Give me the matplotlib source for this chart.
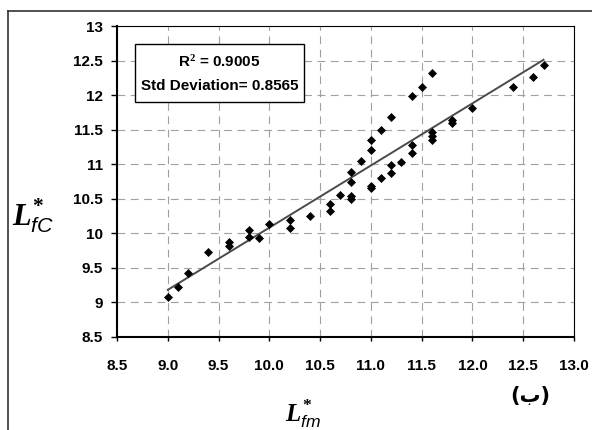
import numpy as np
import matplotlib
matplotlib.use("Agg")
import matplotlib.pyplot as plt
from matplotlib.patches import Rectangle
from matplotlib.lines import Line2D

# ---- data ----
x_fm = [9.0, 9.1, 9.2, 9.4, 9.6, 9.6, 9.8, 9.8, 9.9, 10.0,
        10.2, 10.2, 10.4, 10.6, 10.6, 10.7, 10.8, 10.8, 10.8, 10.8,
        10.9, 11.0, 11.0, 11.0, 11.0, 11.1, 11.1, 11.2, 11.2, 11.2,
        11.3, 11.4, 11.4, 11.4, 11.5, 11.6, 11.6, 11.6, 11.6, 11.8,
        11.8, 12.0, 12.4, 12.6, 12.7]
y_fc = [9.08, 9.22, 9.43, 9.73, 9.88, 9.81, 10.05, 9.94, 9.93, 10.13,
        10.19, 10.07, 10.25, 10.43, 10.33, 10.56, 10.89, 10.75, 10.54, 10.50,
        11.04, 11.35, 11.21, 10.68, 10.65, 11.50, 10.80, 11.69, 10.99, 10.88,
        11.03, 11.98, 11.28, 11.16, 12.12, 12.32, 11.47, 11.41, 11.35, 11.64,
        11.60, 11.82, 12.12, 12.26, 12.44]
x_ticks = [8.5, 9.0, 9.5, 10.0, 10.5, 11.0, 11.5, 12.0, 12.5, 13.0]
y_ticks = [8.5, 9, 9.5, 10, 10.5, 11, 11.5, 12, 12.5, 13]
stats_lines = ["R$^2$ = 0.9005", "Std Deviation= 0.8565"]
panel_tag = "(ب)"

plt.rcParams["font.family"] = ["Liberation Sans", "DejaVu Sans"]
plt.rcParams["mathtext.fontset"] = "custom"
plt.rcParams["mathtext.it"] = "Liberation Serif:italic:bold"
plt.rcParams["mathtext.rm"] = "Liberation Serif:bold"
plt.rcParams["mathtext.sf"] = "Liberation Sans:italic"

W, H = 592, 430
fig = plt.figure(figsize=(W / 100, H / 100), dpi=100)
ax = fig.add_axes([117 / W, 1 - 337 / H, (574 - 117) / W, (337 - 26) / H])

# trend line (least squares)
k, b = np.polyfit(x_fm, y_fc, 1)
xl = np.array([min(x_fm), max(x_fm)])
ax.plot(xl, k * xl + b, color="#4a4a4a", lw=1.4, zorder=3)
ax.plot(x_fm, y_fc, "D", color="black", ms=4, mew=0.5, zorder=4)

ax.set_xlim(8.5, 13.0); ax.set_ylim(8.5, 13.0)
ax.set_xticks(x_ticks)
ax.set_xticklabels([f"{v:.1f}" for v in x_ticks])
ax.set_yticks(y_ticks)
ax.set_yticklabels([f"{v:g}" for v in y_ticks])
ax.grid(True, color="#a0a0a0", lw=0.8, ls=(0, (7, 5)), zorder=0)
ax.set_axisbelow(True)

for lab in ax.get_xticklabels() + ax.get_yticklabels():
    lab.set_fontweight("bold"); lab.set_fontsize(11)
ax.tick_params(axis="x", direction="out", length=3, width=1, pad=13)
ax.tick_params(axis="y", direction="out", length=4, width=1, pad=6)
ax.spines["left"].set_linewidth(1.5); ax.spines["bottom"].set_linewidth(1.5)
ax.spines["top"].set_linewidth(0.8); ax.spines["right"].set_linewidth(0.8)

# stats box
fig.add_artist(Rectangle((135 / W, 1 - 102 / H), 169 / W, 58 / H, transform=fig.transFigure,
                         facecolor="white", edgecolor="black", lw=1.0, zorder=2))
fig.text(219.5 / W, 1 - 62 / H, stats_lines[0], ha="center", va="center",
         fontsize=11, fontweight="bold", zorder=3)
fig.text(219.5 / W, 1 - 86 / H, stats_lines[1], ha="center", va="center",
         fontsize=11, fontweight="bold", zorder=3)

# axis labels
fig.text(33 / W, 1 - 216 / H, r"$L^{*}_{\mathsf{fC}}$", ha="center", va="center", fontsize=22)
fig.text(303 / W, 1 - 414 / H, r"$L^{*}_{\mathsf{fm}}$", ha="center", va="center", fontsize=18)
fig.text(530 / W, 1 - 396 / H, panel_tag, ha="center", va="center", fontsize=15,
         fontweight="bold", family=["DejaVu Sans"])

# outer frame (cut off at right and bottom)
fig.add_artist(Line2D([7.5 / W, 7.5 / W], [1 - 10.5 / H, 0], transform=fig.transFigure,
                      color="#333333", lw=1.2))
fig.add_artist(Line2D([7.5 / W, 1], [1 - 10.5 / H, 1 - 10.5 / H], transform=fig.transFigure,
                      color="#333333", lw=1.2))

fig.savefig("out.png", dpi=100)
